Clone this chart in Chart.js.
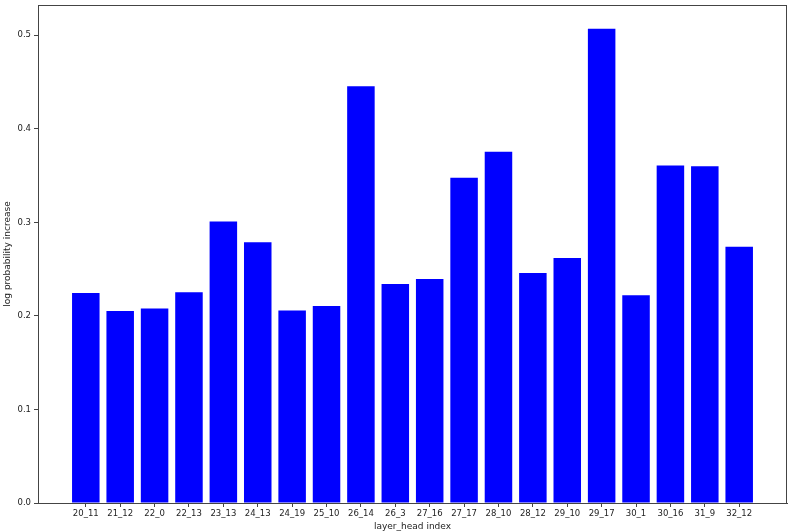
<!DOCTYPE html>
<html>
<head>
<meta charset="utf-8">
<script src="https://cdn.jsdelivr.net/npm/chart.js@4/dist/chart.umd.min.js"></script>
<style>
  html, body { margin: 0; padding: 0; background: #fff; }
  #wrap { width: 789px; height: 532px; }
</style>
</head>
<body>
<div id="wrap"><canvas id="headChart"></canvas></div>
<script>
const headLabels = ["20_11", "21_12", "22_0", "22_13", "23_13", "24_13", "24_19", "25_10", "26_14", "26_3",
    "27_16", "27_17", "28_10", "28_12", "29_10", "29_17", "30_1", "30_16", "31_9", "32_12"];
const logProbIncrease = [0.2245, 0.2052, 0.208, 0.2252, 0.301, 0.2787, 0.2059, 0.2106, 0.4454, 0.2341,
    0.2395, 0.3476, 0.3755, 0.2459, 0.262, 0.507, 0.222, 0.3608, 0.360, 0.2738];
const yTicks = [0.0, 0.1, 0.2, 0.3, 0.4, 0.5];

const axisColor = "#444";
const fontFamily = "'DejaVu Sans', sans-serif";

// matplotlib-like box around the axes
const frameBox = {
    id: "frameBox",
    afterDraw(chart) {
        const { ctx, chartArea } = chart;
        ctx.save();
        ctx.strokeStyle = axisColor;
        ctx.lineWidth = 1;
        ctx.strokeRect(chartArea.left + 0.5, chartArea.top + 0.5,
            chartArea.right - chartArea.left - 1, chartArea.bottom - chartArea.top);
        ctx.restore();
    }
};

const maxVal = Math.max(...logProbIncrease);
const xPad = 0.4 + (headLabels.length - 0.2) * 0.05;

new Chart(document.getElementById("headChart"), {
    type: "bar",
    data: {
        datasets: [{
            data: logProbIncrease.map((v, i) => ({ x: i, y: v })),
            backgroundColor: "#0000ff",
            borderWidth: 0,
            categoryPercentage: 1,
            barPercentage: 0.8
        }]
    },
    plugins: [frameBox],
    options: {
        responsive: true,
        maintainAspectRatio: false,
        animation: false,
        layout: { padding: { top: 5, right: 2, left: 0, bottom: 0 } },
        plugins: {
            legend: { display: false },
            tooltip: { enabled: false }
        },
        scales: {
            x: {
                type: "linear",
                offset: false,
                min: -xPad,
                max: headLabels.length - 1 + xPad,
                afterBuildTicks: (axis) => {
                    axis.ticks = headLabels.map((_, i) => ({ value: i }));
                },
                afterFit: (axis) => { axis.height = 29; },
                ticks: {
                    autoSkip: false,
                    maxRotation: 0,
                    color: "#222",
                    padding: 2,
                    font: { family: fontFamily, size: 8.5 },
                    callback: (v) => headLabels[v]
                },
                grid: { offset: false, drawOnChartArea: false, drawTicks: true, tickLength: 4, color: axisColor },
                border: { display: true, color: axisColor },
                title: {
                    display: true,
                    text: "layer_head index",
                    color: "#222",
                    font: { family: fontFamily, size: 9 },
                    padding: { top: 0, bottom: 0 }
                }
            },
            y: {
                min: 0,
                max: maxVal * 1.05,
                afterBuildTicks: (axis) => {
                    axis.ticks = yTicks.map((v) => ({ value: v }));
                },
                afterFit: (axis) => {
                    axis.width = 38;
                    axis.paddingTop = 0;
                    axis.paddingBottom = 0;
                },
                ticks: {
                    color: "#222",
                    padding: 3,
                    font: { family: fontFamily, size: 8.5 },
                    callback: (v) => Number(v).toFixed(1)
                },
                grid: { offset: false, drawOnChartArea: false, drawTicks: true, tickLength: 4, color: axisColor },
                border: { display: true, color: axisColor },
                title: {
                    display: true,
                    text: "log probability increase",
                    color: "#222",
                    font: { family: fontFamily, size: 9 },
                    padding: { top: 2, bottom: 0 }
                }
            }
        }
    }
});
</script>
</body>
</html>
